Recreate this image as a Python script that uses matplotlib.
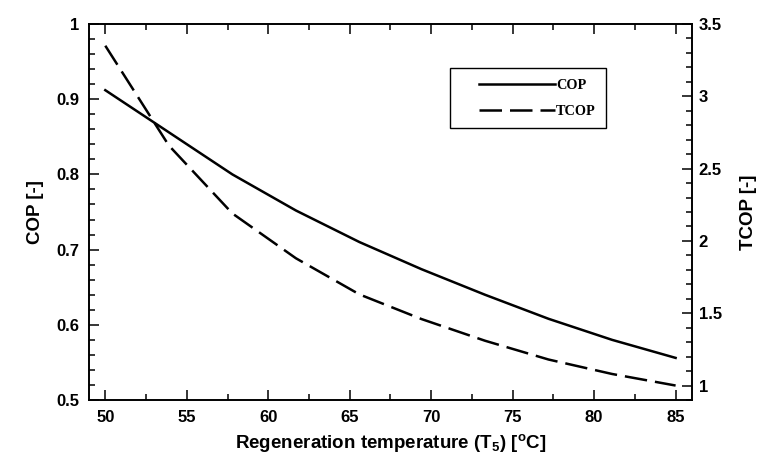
import matplotlib
matplotlib.use('Agg')
import matplotlib.pyplot as plt
from matplotlib.ticker import MultipleLocator
from matplotlib.legend_handler import HandlerLine2D

plt.rcParams['font.family'] = ['Liberation Sans', 'DejaVu Sans']
plt.rcParams['font.weight'] = 'bold'
plt.rcParams['mathtext.fontset'] = 'custom'
plt.rcParams['mathtext.rm'] = 'Liberation Sans:bold'
plt.rcParams['mathtext.bf'] = 'Liberation Sans:bold'
plt.rcParams['mathtext.it'] = 'Liberation Sans:bold'

# regeneration temperature T5 [C]
temp = [50, 53.9, 57.8, 61.7, 65.6, 69.4, 73.3, 77.2, 81.1, 85]
cop = [0.912, 0.856, 0.800, 0.752, 0.710, 0.674, 0.640, 0.608, 0.580, 0.556]
tcop = [3.35, 2.66, 2.19, 1.88, 1.63, 1.46, 1.31, 1.18, 1.08, 1.0]

fig = plt.figure(figsize=(7.62, 4.62), dpi=100)
ax = fig.add_axes([0.1168, 0.1342, 0.7912, 0.8138])
ax2 = ax.twinx()

l1, = ax.plot(temp, cop, color='black', lw=1.8, label='COP')
l2, = ax2.plot(temp, tcop, color='black', lw=1.8, dashes=(9, 3.2), label='TCOP')

ax.set_xlim(49, 86)
ax.set_ylim(0.5, 1.0)
ax2.set_ylim(0.9, 3.5)

ax.xaxis.set_major_locator(MultipleLocator(5))
ax.xaxis.set_minor_locator(MultipleLocator(2.5))
ax.yaxis.set_major_locator(MultipleLocator(0.1))
ax.yaxis.set_minor_locator(MultipleLocator(0.02))
ax.yaxis.set_major_formatter(plt.FuncFormatter(lambda v, p: '1' if abs(v - 1) < 1e-9 else f'{v:.1f}'))
ax2.yaxis.set_major_locator(MultipleLocator(0.5))
ax2.yaxis.set_minor_locator(MultipleLocator(0.1))
ax2.yaxis.set_major_formatter(plt.FuncFormatter(lambda v, p: f'{v:g}'))

ax.tick_params(which='both', direction='in', top=True, right=False, width=1.1, labelsize=12, pad=7)
ax.tick_params(which='major', length=7)
ax.tick_params(which='minor', length=4)
ax2.tick_params(which='both', direction='in', width=1.1, labelsize=12, pad=5)
ax2.tick_params(which='major', length=7)
ax2.tick_params(which='minor', length=4)
for a in (ax, ax2):
    for s in a.spines.values():
        s.set_linewidth(1.2)
    for t in a.get_xticklabels() + a.get_yticklabels():
        t.set_fontweight('bold')

ax.set_xlabel(r'Regeneration temperature (T$_5$) [$^{\rm o}$C]', fontsize=13.5, fontweight='bold', labelpad=5)
ax.set_ylabel('COP [-]', fontsize=13.5, fontweight='bold', labelpad=9)
ax2.set_ylabel('TCOP [-]', fontsize=13.5, fontweight='bold', labelpad=13)

leg = ax.legend(handles=[l1, l2], loc='upper left', bbox_to_anchor=(0.5987, 0.883),
                prop={'family': 'Liberation Serif', 'weight': 'bold', 'size': 10.3},
                frameon=True, fancybox=False, edgecolor='black', framealpha=1,
                handlelength=6.6, handletextpad=0.05, borderpad=0.75, labelspacing=0.9,
                borderaxespad=0, handler_map={l1: HandlerLine2D(xpad=1.3), l2: HandlerLine2D(xpad=1.3)})
leg.get_frame().set_linewidth(1.0)

fig.savefig('out.png', dpi=100)
